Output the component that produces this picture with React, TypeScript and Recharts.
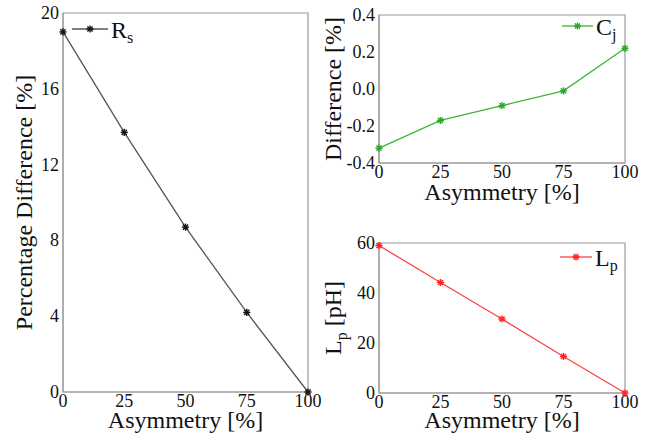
import React from "react"
import { LineChart, Line, XAxis, YAxis, ReferenceArea, Legend, Label } from "recharts"

const asymmetry = [0, 25, 50, 75, 100]
const rsDifference = [19, 13.7, 8.7, 4.2, 0]
const cjDifference = [-0.32, -0.17, -0.09, -0.01, 0.22]
const lpValues = [59, 44.2, 29.6, 14.6, 0]

const xTicks = [0, 25, 50, 75, 100]
const rsTicks = [0, 4, 8, 12, 16, 20]
const cjTicks = [-0.4, -0.2, 0, 0.2, 0.4]
const lpTicks = [0, 20, 40, 60]

const serif = '"Liberation Serif", "DejaVu Serif", serif'
const frame = "#9a9a9a"
const ink = "#111"

const toRows = (ys: number[]) => asymmetry.map((x, i) => ({ x, y: ys[i] }))

function Star({ cx, cy, color }: { cx: number; cy: number; color: string }) {
    if (cx == null || cy == null) return null
    const r = 3.6
    const d = r * 0.72
    return (
        <g stroke={color} strokeWidth={1.4}>
            <line x1={cx - r} y1={cy} x2={cx + r} y2={cy} />
            <line x1={cx} y1={cy - r} x2={cx} y2={cy + r} />
            <line x1={cx - d} y1={cy - d} x2={cx + d} y2={cy + d} />
            <line x1={cx - d} y1={cy + d} x2={cx + d} y2={cy - d} />
        </g>
    )
}

// tick text drawn by hand so the serif face is used
const xTick = (props: any) => {
    const { x, y, payload } = props
    return (
        <text x={x} y={y + 15} textAnchor="middle" fontSize={18} fontFamily={serif} fill={ink} style={{ fontFamily: serif }}>
            {payload.value}
        </text>
    )
}

const yTick = (fmt?: (v: number) => string) => (props: any) => {
    const { x, y, payload } = props
    return (
        <text x={x} y={y + 6} textAnchor="end" fontSize={18} fontFamily={serif} fill={ink} style={{ fontFamily: serif }}>
            {fmt ? fmt(payload.value) : payload.value}
        </text>
    )
}

// rotated y title, baseX = where the text baseline sits inside the axis box
const yTitle = (baseX: number, children: React.ReactNode) => (props: any) => {
    const vb = props.viewBox
    if (!vb) return null
    const cx = vb.x + baseX
    const cy = vb.y + vb.height / 2
    return (
        <text x={cx} y={cy} transform={`rotate(-90, ${cx}, ${cy})`} textAnchor="middle" fontSize={24} fontFamily={serif} fill={ink}>
            {children}
        </text>
    )
}

interface PanelProps {
    data: { x: number; y: number }[]
    width: number
    height: number
    margin: { top: number; right: number; bottom: number; left: number }
    yWidth: number
    xHeight: number
    yDomain: [number, number]
    yTicks: number[]
    yFormat?: (v: number) => string
    title: (props: any) => React.ReactNode
    xTitleOffset: number
    lineColor: string
    markerColor: string
    name: string
    sub: string
    legendAt: { left: number; top: number; len: number }
}

function Panel(p: PanelProps) {
    return (
        <LineChart width={p.width} height={p.height} data={p.data} margin={p.margin}>
            <XAxis
                dataKey="x"
                type="number"
                domain={[0, 100]}
                ticks={xTicks}
                interval={0}
                height={p.xHeight}
                tick={xTick}
                tickLine={false}
                tickSize={0}
                tickMargin={0}
                axisLine={{ stroke: frame }}
            >
                <Label value="Asymmetry [%]" position="insideBottom" offset={p.xTitleOffset} fontSize={24} fontFamily={serif} fill={ink} />
            </XAxis>
            <YAxis
                type="number"
                domain={p.yDomain}
                ticks={p.yTicks}
                interval={0}
                width={p.yWidth}
                tick={yTick(p.yFormat)}
                tickLine={false}
                tickSize={0}
                tickMargin={4}
                axisLine={{ stroke: frame }}
            >
                <Label content={p.title} />
            </YAxis>
            <ReferenceArea x1={0} x2={100} y1={p.yDomain[0]} y2={p.yDomain[1]} fill="none" stroke={frame} strokeWidth={1.2} />
            <Legend
                layout="horizontal"
                align="center"
                verticalAlign="middle"
                wrapperStyle={{ left: p.legendAt.left, top: p.legendAt.top, width: "auto" }}
                content={() => (
                    <svg width={90} height={34} style={{ display: "block", overflow: "visible" }}>
                        <line x1={2} y1={14} x2={2 + p.legendAt.len} y2={14} stroke={p.lineColor} strokeWidth={1.3} />
                        <Star cx={2 + p.legendAt.len / 2} cy={14} color={p.markerColor} />
                        <text x={p.legendAt.len + 5} y={23} fontSize={24} fontFamily={serif} fill={ink}>
                            {p.name}
                            <tspan fontSize={16} dy={5}>{p.sub}</tspan>
                        </text>
                    </svg>
                )}
            />
            <Line
                type="linear"
                dataKey="y"
                stroke={p.lineColor}
                strokeWidth={1.3}
                dot={(d: any) => <Star key={d.index} cx={d.cx} cy={d.cy} color={p.markerColor} />}
                activeDot={false}
                isAnimationActive={false}
            />
        </LineChart>
    )
}

export default function App() {
    return (
        <div style={{ position: "absolute", left: 0, top: 0, width: 651, height: 436, background: "#fff", fontFamily: serif }}>
            <div style={{ position: "absolute", left: 0, top: 0 }}>
                <Panel
                    data={toRows(rsDifference)}
                    width={334}
                    height={436}
                    margin={{ top: 13, right: 26, bottom: 0, left: 0 }}
                    yWidth={63}
                    xHeight={44}
                    yDomain={[0, 20]}
                    yTicks={rsTicks}
                    title={yTitle(31.5, "Percentage Difference [%]")}
                    xTitleOffset={8}
                    lineColor="#555"
                    markerColor="#111"
                    name="R"
                    sub="s"
                    legendAt={{ left: 70, top: 15, len: 36 }}
                />
            </div>
            <div style={{ position: "absolute", left: 320, top: 0 }}>
                <Panel
                    data={toRows(cjDifference)}
                    width={331}
                    height={218}
                    margin={{ top: 15, right: 26, bottom: 0, left: 0 }}
                    yWidth={59}
                    xHeight={55}
                    yDomain={[-0.4, 0.4]}
                    yTicks={cjTicks}
                    yFormat={(v: number) => v.toFixed(1)}
                    title={yTitle(21, "Difference [%]")}
                    xTitleOffset={18}
                    lineColor="#3cb43c"
                    markerColor="#2aa82a"
                    name="C"
                    sub="j"
                    legendAt={{ left: 240, top: 12, len: 31 }}
                />
            </div>
            <div style={{ position: "absolute", left: 320, top: 218 }}>
                <Panel
                    data={toRows(lpValues)}
                    width={331}
                    height={218}
                    margin={{ top: 25, right: 26, bottom: 0, left: 0 }}
                    yWidth={59}
                    xHeight={43}
                    yDomain={[0, 60]}
                    yTicks={lpTicks}
                    title={yTitle(21, <>L<tspan fontSize={16} dy={6}>p</tspan><tspan dy={-6}> [pH]</tspan></>)}
                    xTitleOffset={8}
                    lineColor="#ff4040"
                    markerColor="#ff2020"
                    name="L"
                    sub="p"
                    legendAt={{ left: 238, top: 25, len: 32 }}
                />
            </div>
        </div>
    )
}
